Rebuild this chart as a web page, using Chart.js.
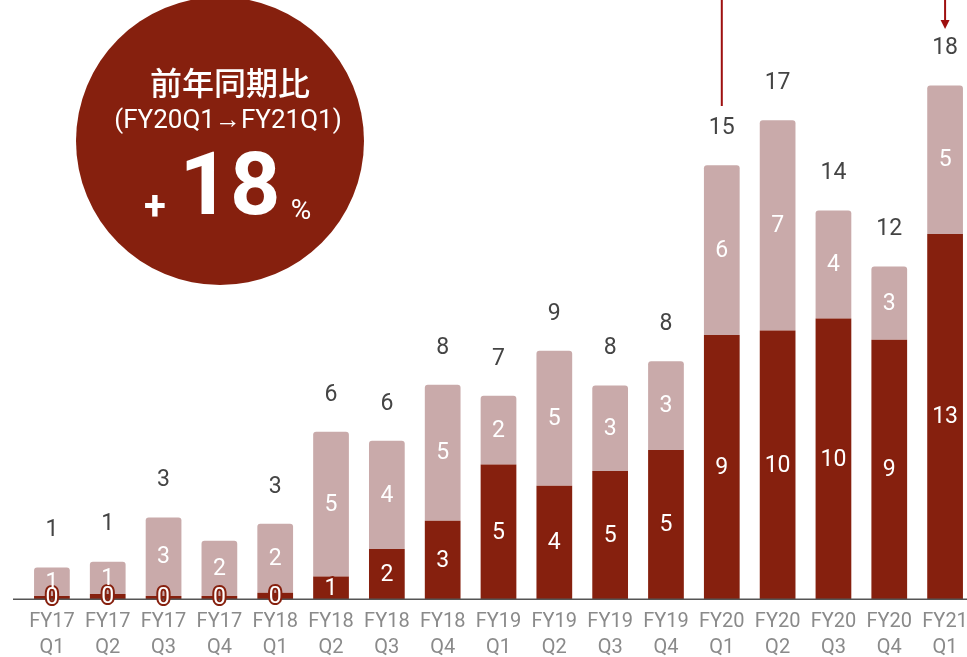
<!DOCTYPE html>
<html>
<head>
<meta charset="utf-8">
<script src="https://cdn.jsdelivr.net/npm/chart.js@4.4.0/dist/chart.umd.min.js"></script>
<style>
    html, body { margin: 0; padding: 0; background: #fff; overflow: hidden; }
    #caixa { width: 990px; height: 657px; }
</style>
</head>
<body>
<div id="caixa"><canvas id="chartJS"></canvas></div>
<script>

// DADOS - trimestres e valores de cada parte da barra

const trimestres = [
    ['FY17', 'Q1'], ['FY17', 'Q2'], ['FY17', 'Q3'], ['FY17', 'Q4'],
    ['FY18', 'Q1'], ['FY18', 'Q2'], ['FY18', 'Q3'], ['FY18', 'Q4'],
    ['FY19', 'Q1'], ['FY19', 'Q2'], ['FY19', 'Q3'], ['FY19', 'Q4'],
    ['FY20', 'Q1'], ['FY20', 'Q2'], ['FY20', 'Q3'], ['FY20', 'Q4'],
    ['FY21', 'Q1']
]

const valoresEscuros = [0.12, 0.19, 0.12, 0.12, 0.23, 0.81, 1.78, 2.78, 4.76, 4.01, 4.53, 5.28, 9.34, 9.5, 9.92, 9.17, 12.91]
const valoresClaros = [1.0, 1.14, 2.77, 1.95, 2.44, 5.11, 3.82, 4.80, 2.43, 4.77, 3.03, 3.13, 6.0, 7.43, 3.82, 2.59, 5.25]

// total em cima da barra (FY17 Q4 fica sem)
const mostrarTotal = [true, true, true, false, true, true, true, true, true, true, true, true, true, true, true, true, true]

const corEscura = '#86200E'
const corClara = '#C9AAAA'
const corSeta = '#9E1010'

// rótulos, eixo, círculo e setas
const desenhos = {
    id: 'desenhos',
    afterDatasetsDraw(chart) {
        const ctx = chart.ctx
        const area = chart.chartArea

        // linha do eixo x
        ctx.save()
        ctx.strokeStyle = '#555'
        ctx.lineWidth = 1.5
        ctx.beginPath()
        ctx.moveTo(13, area.bottom)
        ctx.lineTo(chart.width, area.bottom)
        ctx.stroke()

        ctx.textAlign = 'center'
        ctx.textBaseline = 'middle'
        ctx.font = '23px Roboto'
        ctx.lineJoin = 'round'

        chart.data.datasets.forEach((ds, d) => {
            const meta = chart.getDatasetMeta(d)
            meta.data.forEach((barra, i) => {
                const texto = String(Math.round(ds.data[i]))
                const yMeio = (barra.y + barra.base) / 2
                if (d === 0) {
                    ctx.strokeStyle = corEscura
                    ctx.lineWidth = 4
                    ctx.strokeText(texto, barra.x, yMeio + 1)
                }
                ctx.fillStyle = '#fff'
                ctx.fillText(texto, barra.x, yMeio + 1)
            })
        })

        // totais
        const metaTopo = chart.getDatasetMeta(1)
        ctx.fillStyle = '#444'
        ctx.font = '23px Roboto'
        metaTopo.data.forEach((barra, i) => {
            if (!mostrarTotal[i]) return
            const total = Math.round(valoresEscuros[i] + valoresClaros[i])
            ctx.fillText(String(total), barra.x, barra.y - 37)
        })

        // setas no topo
        const x = chart.scales.x
        const xA = x.getPixelForValue(12)
        const xB = x.getPixelForValue(16)
        ctx.strokeStyle = corSeta
        ctx.fillStyle = corSeta
        ctx.lineWidth = 2
        ctx.beginPath()
        ctx.moveTo(xA, 0)
        ctx.lineTo(xA, 106)
        ctx.moveTo(xB, 0)
        ctx.lineTo(xB, 22)
        ctx.stroke()
        ctx.beginPath()
        ctx.moveTo(xB - 4.5, 20)
        ctx.lineTo(xB + 4.5, 20)
        ctx.lineTo(xB, 29)
        ctx.closePath()
        ctx.fill()

        // círculo
        ctx.fillStyle = corEscura
        ctx.beginPath()
        ctx.arc(220, 141, 144, 0, Math.PI * 2)
        ctx.fill()

        ctx.fillStyle = '#fff'
        ctx.font = '500 32px "Noto Sans CJK JP"'
        ctx.fillText('前年同期比', 230, 83)
        ctx.font = '26px Roboto'
        ctx.fillText('(FY20Q1→FY21Q1)', 228, 121)
        ctx.font = 'bold 88px Roboto'
        ctx.fillText('18', 230, 192)
        ctx.font = 'bold 40px Roboto'
        ctx.fillText('+', 155, 209)
        ctx.font = '28px Roboto'
        ctx.fillText('%', 301, 212)
        ctx.restore()
    }
}

const meuchart = document.getElementById('chartJS')

const data = {
    labels: trimestres,
    datasets: [
        {
            label: 'escuro',
            data: valoresEscuros,
            backgroundColor: corEscura,
            borderRadius: 0,
        },
        {
            label: 'claro',
            data: valoresClaros,
            backgroundColor: corClara,
            borderRadius: { topLeft: 3, topRight: 3, bottomLeft: 0, bottomRight: 0 },
            borderSkipped: 'start',
        },
    ]
}

const config = {
    type: 'bar',
    data: data,
    options: {
        responsive: true,
        maintainAspectRatio: false,
        animation: false,
        layout: {
            padding: { left: 24, right: 17, top: 0, bottom: 0 }
        },
        datasets: {
            bar: {
                categoryPercentage: 1,
                barPercentage: 0.64,
            }
        },
        plugins: {
            legend: { display: false },
            tooltip: { enabled: false },
        },
        scales: {
            x: {
                stacked: true,
                grid: { display: false },
                border: { display: false },
                afterFit: (scale) => { scale.height = 57.7 },
                ticks: {
                    padding: 2,
                    maxRotation: 0,
                    autoSkip: false,
                    color: '#8a8a8a',
                    font: {
                        size: 20,
                        family: 'Roboto',
                        lineHeight: 1.3,
                    },
                },
            },
            y: {
                stacked: true,
                display: false,
                min: 0,
                max: 21.18,
            },
        },
    },
    plugins: [desenhos],
}

const chart = new Chart(meuchart, config)
</script>
</body>
</html>
